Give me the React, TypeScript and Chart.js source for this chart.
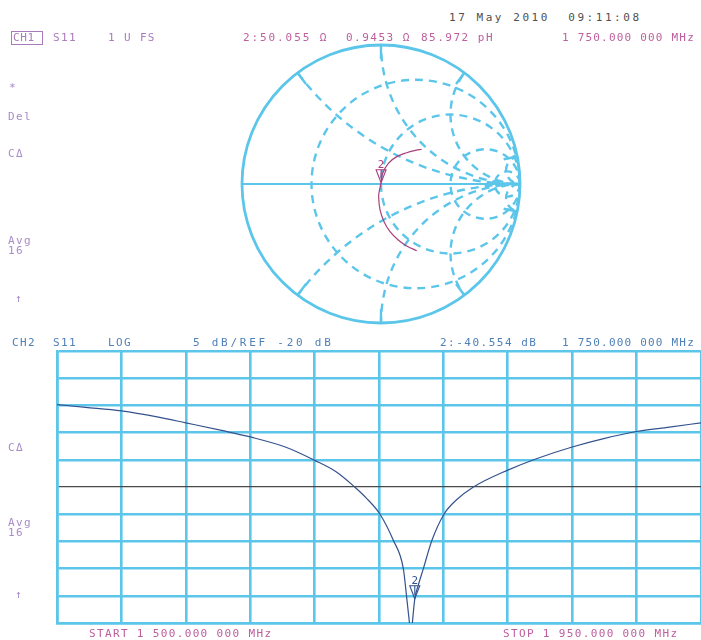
import React, { useEffect, useRef } from 'react';
import { Chart, registerables } from 'chart.js';

Chart.register(...registerables);

// ---- Sweep / display settings ----
const START_MHZ = 1500;
const STOP_MHZ = 1950;
const FREQ_DIV_MHZ = 45;
const REF_DB = -20;
const DB_PER_DIV = 5;
const HALF_DIVS = 5;

// ---- CH2: S11 log magnitude ----
const FREQ_MHZ = [
  1500, 1520, 1545, 1570, 1590, 1615, 1635, 1660, 1680, 1695, 1708, 1716, 1725.7,
  1735, 1742, 1744.3, 1746.3, 1747.3, 1748.3, 1750, 1752.5, 1756, 1762, 1770.4, 1779,
  1791, 1815, 1835, 1860, 1882, 1905, 1928, 1950,
];
const S11_DB = [
  -4.85, -5.35, -6.0, -7.1, -8.2, -9.6, -10.8, -12.7, -15.1, -17.2, -20.0, -22.0, -25.0,
  -29.8, -35.0, -40.2, -45.0, -47.5, -45.0, -40.554, -38.0, -35.0, -29.8, -25.0, -22.4,
  -20.0, -16.9, -14.8, -12.65, -11.1, -9.8, -9.0, -8.2,
];

// ---- Marker 2 ----
const MARKER_MHZ = 1750;
const MARKER_DB = -40.554;
const MARKER_R_OHM = 50.055;
const MARKER_X_OHM = 0.9453;
const Z0_OHM = 50;

// ---- CH1: S11 on the Smith chart (reflection coefficient) ----
const GAMMA_RE = [0.293, 0.24, 0.185, 0.113, 0.053, 0.012, 0.0006, -0.012, -0.017, -0.007, 0.022, 0.065, 0.124, 0.185, 0.257];
const GAMMA_IM = [0.25, 0.24, 0.225, 0.197, 0.149, 0.077, 0.0094, -0.05, -0.091, -0.187, -0.271, -0.343, -0.403, -0.446, -0.48];

// ---- Smith graticule ----
const SMITH_R = [1 / 3, 1, 3, 10];
const SMITH_X = [0.5, 1, 2, 10];

// ---- Colours ----
const GRID = '#5cc6ea';
const REF_LINE = '#4a4a4a';
const TRACE2 = '#34528e';
const TRACE1 = '#a8407c';
const TXT_CH1 = '#a97bbb';
const TXT_MAG = '#bd5f9c';
const TXT_ANN = '#a98bc9';
const TXT_CH2 = '#4f80b8';
const TXT_DATE = '#505050';

const MONO = '"DejaVu Sans Mono", "Liberation Mono", monospace';

function markerGamma() {
  const nr = MARKER_R_OHM - Z0_OHM;
  const dr = MARKER_R_OHM + Z0_OHM;
  const x = MARKER_X_OHM;
  const den = dr * dr + x * x;
  return { re: (nr * dr + x * x) / den, im: (x * dr - nr * x) / den };
}

function drawMarker(ctx: CanvasRenderingContext2D, px: number, py: number, color: string) {
  ctx.save();
  ctx.strokeStyle = color;
  ctx.lineWidth = 1.1;
  ctx.setLineDash([]);
  ctx.beginPath();
  ctx.moveTo(px, py);
  ctx.lineTo(px - 5, py - 13);
  ctx.lineTo(px + 5, py - 13);
  ctx.closePath();
  ctx.stroke();
  ctx.beginPath();
  ctx.moveTo(px, py - 13);
  ctx.lineTo(px, py - 4);
  ctx.stroke();
  ctx.fillStyle = color;
  ctx.font = `11px ${MONO}`;
  ctx.textAlign = 'center';
  ctx.textBaseline = 'alphabetic';
  ctx.fillText('2', px, py - 15);
  ctx.restore();
}

const logMarkerPlugin = {
  id: 'logMarker',
  afterDatasetsDraw(chart: any) {
    const { x, y } = chart.scales;
    drawMarker(chart.ctx, x.getPixelForValue(MARKER_MHZ), y.getPixelForValue(MARKER_DB), TRACE2);
  },
};

const smithGridPlugin = {
  id: 'smithGrid',
  beforeDatasetsDraw(chart: any) {
    const { ctx } = chart;
    const { x, y } = chart.scales;
    const cx = x.getPixelForValue(0);
    const cy = y.getPixelForValue(0);
    const k = x.getPixelForValue(1) - cx;
    ctx.save();
    ctx.beginPath();
    ctx.arc(cx, cy, k, 0, Math.PI * 2);
    ctx.clip();
    ctx.strokeStyle = GRID;
    ctx.lineWidth = 2.4;
    ctx.setLineDash([8, 6]);
    for (const r of SMITH_R) {
      ctx.beginPath();
      ctx.arc(x.getPixelForValue(r / (1 + r)), cy, k / (1 + r), 0, Math.PI * 2);
      ctx.stroke();
    }
    for (const xv of SMITH_X) {
      for (const s of [1, -1]) {
        ctx.beginPath();
        ctx.arc(x.getPixelForValue(1), y.getPixelForValue(s / xv), k / xv, 0, Math.PI * 2);
        ctx.stroke();
      }
    }
    ctx.restore();

    ctx.save();
    ctx.strokeStyle = GRID;
    ctx.setLineDash([]);
    // reactance ticks at the rim
    ctx.lineWidth = 2.4;
    for (const xv of SMITH_X) {
      for (const s of [1, -1]) {
        const ex = (xv * xv - 1) / (xv * xv + 1);
        const ey = (s * 2 * xv) / (xv * xv + 1);
        ctx.beginPath();
        ctx.moveTo(x.getPixelForValue(ex), y.getPixelForValue(ey));
        ctx.lineTo(x.getPixelForValue(ex * 0.9), y.getPixelForValue(ey * 0.9));
        ctx.stroke();
      }
    }
    // real axis
    ctx.lineWidth = 2.2;
    ctx.beginPath();
    ctx.moveTo(x.getPixelForValue(-1), cy);
    ctx.lineTo(x.getPixelForValue(1), cy);
    ctx.stroke();
    // unit circle
    ctx.lineWidth = 2.8;
    ctx.beginPath();
    ctx.arc(cx, cy, k, 0, Math.PI * 2);
    ctx.stroke();
    ctx.restore();
  },
  afterDatasetsDraw(chart: any) {
    const { x, y } = chart.scales;
    const g = markerGamma();
    drawMarker(chart.ctx, x.getPixelForValue(g.re), y.getPixelForValue(g.im), TRACE1);
  },
};

function LogMagChart() {
  const ref = useRef<HTMLCanvasElement>(null);
  useEffect(() => {
    const chart = new Chart(ref.current as HTMLCanvasElement, {
      type: 'line',
      data: {
        datasets: [
          {
            data: FREQ_MHZ.map((f, i) => ({ x: f, y: S11_DB[i] })),
            borderColor: TRACE2,
            borderWidth: 1.2,
            pointRadius: 0,
            cubicInterpolationMode: 'monotone',
            fill: false,
          },
        ],
      },
      options: {
        animation: false,
        responsive: false,
        maintainAspectRatio: false,
        layout: { padding: { left: 7, top: 7, right: 0, bottom: 7 } },
        plugins: { legend: { display: false }, tooltip: { enabled: false } },
        scales: {
          x: {
            type: 'linear',
            min: START_MHZ,
            max: STOP_MHZ,
            ticks: { display: false, stepSize: FREQ_DIV_MHZ },
            grid: { color: GRID, lineWidth: 2.6, drawTicks: false },
            border: { color: GRID, width: 2.6 },
          },
          y: {
            type: 'linear',
            min: REF_DB - HALF_DIVS * DB_PER_DIV,
            max: REF_DB + HALF_DIVS * DB_PER_DIV,
            ticks: { display: false, stepSize: DB_PER_DIV },
            grid: {
              color: (c: any) => (c.tick && c.tick.value === REF_DB ? REF_LINE : GRID),
              lineWidth: (c: any) => (c.tick && c.tick.value === REF_DB ? 1.2 : 2.6),
              drawTicks: false,
            },
            border: { color: GRID, width: 2.6 },
          },
        },
      },
      plugins: [logMarkerPlugin],
    } as any);
    return () => chart.destroy();
  }, []);
  return (
    <canvas
      ref={ref}
      width={651}
      height={286}
      style={{ position: 'absolute', left: 50, top: 344, width: 651, height: 286 }}
    />
  );
}

function SmithChart() {
  const ref = useRef<HTMLCanvasElement>(null);
  useEffect(() => {
    const chart = new Chart(ref.current as HTMLCanvasElement, {
      type: 'scatter',
      data: {
        datasets: [
          {
            data: GAMMA_RE.map((g, i) => ({ x: g, y: GAMMA_IM[i] })),
            showLine: true,
            borderColor: TRACE1,
            borderWidth: 1.2,
            pointRadius: 0,
            tension: 0.35,
          },
        ],
      },
      options: {
        animation: false,
        responsive: false,
        maintainAspectRatio: false,
        layout: { padding: { left: 12, top: 10, right: 10, bottom: 12 } },
        plugins: { legend: { display: false }, tooltip: { enabled: false } },
        scales: {
          x: { type: 'linear', min: -1, max: 1, display: false },
          y: { type: 'linear', min: -1, max: 1, display: false },
        },
      },
      plugins: [smithGridPlugin],
    } as any);
    return () => chart.destroy();
  }, []);
  return (
    <canvas
      ref={ref}
      width={300}
      height={300}
      style={{ position: 'absolute', left: 230, top: 35, width: 300, height: 300 }}
    />
  );
}

type LabelProps = { x: number; base: number; color: string; text: string; size?: number; ls?: number };

function Label({ x, base, color, text, size = 11, ls = 1.35 }: LabelProps) {
  return (
    <span
      style={{
        position: 'absolute',
        left: x,
        top: base - 0.846 * size,
        fontFamily: MONO,
        fontSize: size,
        lineHeight: `${size}px`,
        letterSpacing: ls,
        color,
        whiteSpace: 'pre',
      }}
    >
      {text}
    </span>
  );
}

export default function App() {
  return (
    <div style={{ position: 'fixed', left: 0, top: 0, width: 701, height: 640, background: '#fff', overflow: 'hidden' }}>
      <SmithChart />
      <LogMagChart />

      {/* CH1 header */}
      <Label x={449} base={21} color={TXT_DATE} text="17 May 2010  09:11:08" ls={2.55} />
      <div style={{ position: 'absolute', left: 11, top: 31, width: 30, height: 12, border: `1px solid ${TXT_CH1}` }} />
      <Label x={13} base={41.5} color={TXT_CH1} text="CH1" ls={0.6} />
      <Label x={53} base={41.5} color={TXT_CH1} text="S11" />
      <Label x={108} base={41.5} color={TXT_CH1} text="1 U FS" />
      <Label x={243} base={41.5} color={TXT_MAG} text="2:50.055 Ω" ls={1.9} />
      <Label x={346} base={41.5} color={TXT_MAG} text="0.9453 Ω" ls={1.5} />
      <Label x={421} base={41.5} color={TXT_MAG} text="85.972 pH" ls={1.5} />
      <Label x={562} base={41.5} color={TXT_MAG} text="1 750.000 000 MHz" ls={1.2} />

      {/* CH1 annotations */}
      <Label x={9} base={91} color={TXT_ANN} text="*" />
      <Label x={8} base={120} color={TXT_ANN} text="Del" />
      <Label x={8} base={157} color={TXT_ANN} text="CΔ" />
      <Label x={8} base={244} color={TXT_ANN} text="Avg" />
      <Label x={8} base={254} color={TXT_ANN} text="16" />
      <Label x={15} base={302} color={TXT_ANN} text="↑" />

      {/* CH2 header */}
      <Label x={12} base={346.5} color={TXT_CH2} text="CH2" />
      <Label x={53} base={346.5} color={TXT_CH2} text="S11" />
      <Label x={108} base={346.5} color={TXT_CH2} text="LOG" />
      <Label x={193} base={346.5} color={TXT_CH2} text="5 dB/REF -20 dB" ls={2.75} />
      <Label x={440} base={346.5} color={TXT_CH2} text="2:-40.554 dB" ls={1.5} />
      <Label x={562} base={346.5} color={TXT_CH2} text="1 750.000 000 MHz" ls={1.2} />

      {/* CH2 annotations */}
      <Label x={8} base={451} color={TXT_ANN} text="CΔ" />
      <Label x={8} base={526} color={TXT_ANN} text="Avg" />
      <Label x={8} base={536} color={TXT_ANN} text="16" />
      <Label x={15} base={598} color={TXT_ANN} text="↑" />

      {/* sweep span */}
      <Label x={89} base={637} color={TXT_MAG} text="START 1 500.000 000 MHz" />
      <Label x={503} base={637} color={TXT_MAG} text="STOP 1 950.000 000 MHz" />
    </div>
  );
}
